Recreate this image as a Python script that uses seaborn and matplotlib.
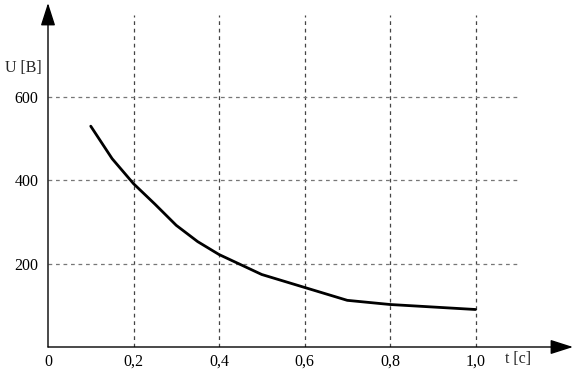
import matplotlib
matplotlib.use("Agg")
import matplotlib.pyplot as plt
import seaborn as sns
import pandas as pd

t_values = [0.1, 0.15, 0.2, 0.25, 0.3, 0.35, 0.4, 0.5, 0.6, 0.7, 0.8, 0.9, 1.0]
u_values = [530, 452, 392, 343, 292, 253, 222, 174, 143, 112, 102, 96, 90]
x_ticks = [0, 0.2, 0.4, 0.6, 0.8, 1.0]
x_tick_labels = ["0", "0,2", "0,4", "0,6", "0,8", "1,0"]
y_ticks = [200, 400, 600]
y_tick_labels = ["200", "400", "600"]

sns.set_style("white")
plt.rcParams["font.family"] = ["Liberation Serif", "DejaVu Serif"]

df = pd.DataFrame({"t": t_values, "U": u_values})

fig = plt.figure(figsize=(5.76, 3.76), dpi=100)
ax = fig.add_axes([48 / 576, 29 / 376, 525 / 576, 344 / 376])
ax.set_facecolor("white")

xmax = 525 / 427.5
ymax = 344 / 0.41667
ax.set_xlim(0, xmax)
ax.set_ylim(0, ymax)

# grid
ax.vlines(x_ticks[1:], 0, 797, colors="#444444", linestyles=(0, (3, 3)), linewidth=0.9)
ax.hlines(y_ticks, 0, 1.104, colors="#777777", linestyles=(0, (3, 3)), linewidth=0.9)

sns.lineplot(data=df, x="t", y="U", ax=ax, color="black", linewidth=2.0)

for s in ["top", "right", "left", "bottom"]:
    ax.spines[s].set_visible(False)

arrow = dict(arrowstyle="-|>,head_length=1.0,head_width=0.32", color="black",
             lw=1.0, mutation_scale=14, shrinkA=0, shrinkB=0)
ax.annotate("", xy=(1, 0), xytext=(0, 0), xycoords="axes fraction",
            textcoords="axes fraction", arrowprops=arrow, annotation_clip=False)
ax.annotate("", xy=(0, 1), xytext=(0, 0), xycoords="axes fraction",
            textcoords="axes fraction", arrowprops=arrow, annotation_clip=False)

ax.set_xticks(x_ticks)
ax.set_xticklabels(x_tick_labels)
ax.set_yticks(y_ticks)
ax.set_yticklabels(y_tick_labels)
ax.tick_params(axis="both", length=0, labelsize=11.5, colors="black")
ax.tick_params(axis="x", pad=5)
ax.tick_params(axis="y", pad=7)
ax.set_xlabel("")
ax.set_ylabel("")

fig.text(5 / 576, 1 - 68 / 376, "U [B]", fontsize=11.5, va="center", ha="left")
fig.text(505 / 576, 1 - 359 / 376, "t [c]", fontsize=11.5, va="center", ha="left")

fig.savefig("out.png", dpi=100)
